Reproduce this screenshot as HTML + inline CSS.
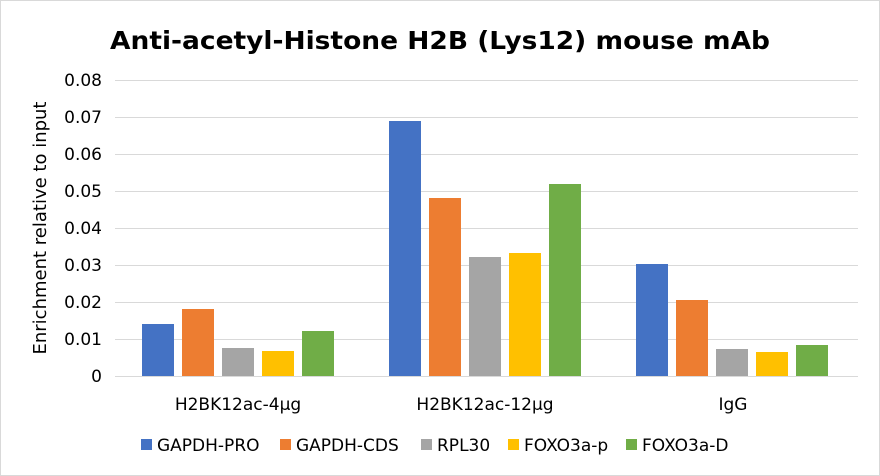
<!DOCTYPE html>
<html><head><meta charset="utf-8"><style>
body{margin:0;background:#fff}
svg{display:block;font-family:"DejaVu Sans","Liberation Sans",sans-serif}
</style></head><body>
<svg width="880" height="476" viewBox="0 0 880 476">
<rect x="0.5" y="0.5" width="879" height="475" fill="#fff" stroke="#d9d9d9"/>
<text x="440" y="49" text-anchor="middle" font-size="25" font-weight="bold" fill="#000" textLength="660" lengthAdjust="spacingAndGlyphs">Anti-acetyl-Histone H2B (Lys12) mouse mAb</text>
<g stroke="#d9d9d9" stroke-width="1">
<line x1="115" x2="858" y1="80.5" y2="80.5"/><line x1="115" x2="858" y1="117.5" y2="117.5"/>
<line x1="115" x2="858" y1="154.5" y2="154.5"/><line x1="115" x2="858" y1="191.5" y2="191.5"/>
<line x1="115" x2="858" y1="228.5" y2="228.5"/><line x1="115" x2="858" y1="265.5" y2="265.5"/>
<line x1="115" x2="858" y1="302.5" y2="302.5"/><line x1="115" x2="858" y1="339.5" y2="339.5"/>
</g>
<g font-size="17" fill="#000" text-anchor="end">
<text x="102" y="86">0.08</text><text x="102" y="123">0.07</text><text x="102" y="160">0.06</text>
<text x="102" y="197">0.05</text><text x="102" y="234">0.04</text><text x="102" y="271">0.03</text>
<text x="102" y="308">0.02</text><text x="102" y="345">0.01</text><text x="102" y="382">0</text>
</g>
<text transform="translate(46,228) rotate(-90)" text-anchor="middle" font-size="18">Enrichment relative to input</text>
<g>
<rect x="142" y="324" width="32" height="52" fill="#4472C4"/>
<rect x="182" y="309" width="32" height="67" fill="#ED7D31"/>
<rect x="222" y="348" width="32" height="28" fill="#A5A5A5"/>
<rect x="262" y="351" width="32" height="25" fill="#FFC000"/>
<rect x="302" y="331" width="32" height="45" fill="#70AD47"/>
<rect x="389" y="121" width="32" height="255" fill="#4472C4"/>
<rect x="429" y="198" width="32" height="178" fill="#ED7D31"/>
<rect x="469" y="257" width="32" height="119" fill="#A5A5A5"/>
<rect x="509" y="253" width="32" height="123" fill="#FFC000"/>
<rect x="549" y="184" width="32" height="192" fill="#70AD47"/>
<rect x="636" y="264" width="32" height="112" fill="#4472C4"/>
<rect x="676" y="300" width="32" height="76" fill="#ED7D31"/>
<rect x="716" y="349" width="32" height="27" fill="#A5A5A5"/>
<rect x="756" y="352" width="32" height="24" fill="#FFC000"/>
<rect x="796" y="345" width="32" height="31" fill="#70AD47"/>
</g>
<line x1="115" x2="858" y1="376.5" y2="376.5" stroke="#d9d9d9"/>
<g font-size="17" text-anchor="middle">
<text x="238" y="410">H2BK12ac-4μg</text>
<text x="485" y="410">H2BK12ac-12μg</text>
<text x="733" y="410">IgG</text>
</g>
<g font-size="17">
<rect x="141" y="439" width="11" height="11" fill="#4472C4"/><text x="157" y="451">GAPDH-PRO</text>
<rect x="280" y="439" width="11" height="11" fill="#ED7D31"/><text x="296" y="451">GAPDH-CDS</text>
<rect x="421" y="439" width="11" height="11" fill="#A5A5A5"/><text x="437" y="451">RPL30</text>
<rect x="508" y="439" width="11" height="11" fill="#FFC000"/><text x="524" y="451">FOXO3a-p</text>
<rect x="626" y="439" width="11" height="11" fill="#70AD47"/><text x="642" y="451">FOXO3a-D</text>
</g>
</svg>
</body></html>
